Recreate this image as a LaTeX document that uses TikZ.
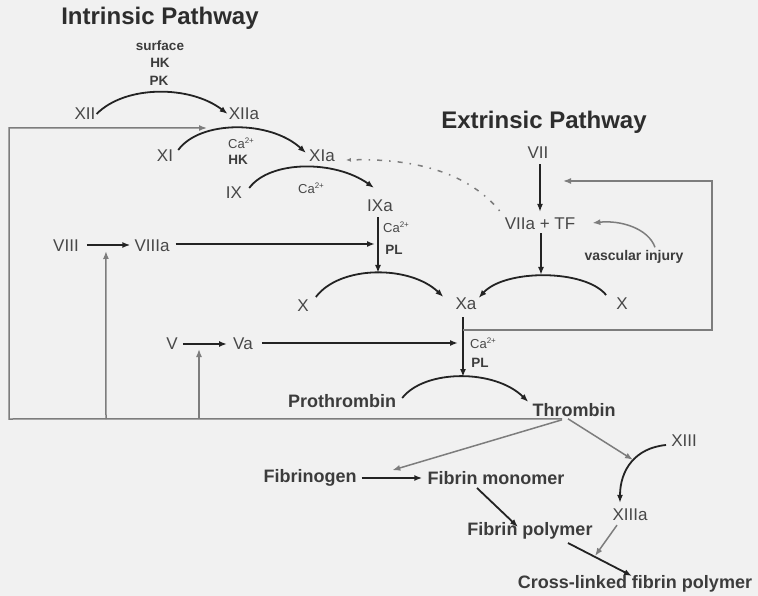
\documentclass[tikz,border=0pt]{standalone}
\usepackage{fontspec}
\setmainfont{Liberation Sans}
\usetikzlibrary{arrows.meta,calc}
\definecolor{bg}{RGB}{241,241,241}
\definecolor{lbl}{RGB}{72,72,72}
\definecolor{dlbl}{RGB}{60,60,60}
\definecolor{ttl}{RGB}{45,45,45}
\definecolor{blk}{RGB}{35,35,35}
\definecolor{gry}{RGB}{125,125,125}
\newcommand{\calcium}{Ca\raisebox{0.7ex}{\fontsize{8}{8}\selectfont 2+}}
\begin{document}
\begin{tikzpicture}[x=1pt,y=-1pt,
 num/.style={text=lbl,font=\fontsize{17}{17}\selectfont,inner sep=1pt},
 big/.style={text=dlbl,font=\fontsize{18}{18}\selectfont\bfseries,inner sep=1pt},
 sm/.style={text=dlbl,font=\fontsize{13.5}{13.5}\selectfont\bfseries,inner sep=0pt},
 ca/.style={text=lbl,font=\fontsize{13}{13}\selectfont,inner sep=0pt},
 ttlstyle/.style={text=ttl,font=\fontsize{24}{24}\selectfont\bfseries,inner sep=0pt},
 blkarr/.style={draw=blk,line width=1.8pt,-{Latex[length=8pt,width=6pt]}},
 gryarr/.style={draw=gry,line width=1.5pt,-{Latex[length=8pt,width=6pt]}},
]
\fill[bg] (0,0) rectangle (758,596);
\useasboundingbox (0,0) rectangle (758,596);

% titles
\node[ttlstyle] (tIn) at (160,18) {Intrinsic Pathway};
\node[ttlstyle] (tEx) at (544,122) {Extrinsic Pathway};

% labels
\node[sm] (surf) at (160,46) {surface};
\node[sm] (hk1) at (160,63) {HK};
\node[sm] (pk) at (159,81) {PK};
\node[num] (XII) at (85,114) {XII};
\node[num] (XIIa) at (244,114) {XIIa};
\node[num] (XI) at (165,156) {XI};
\node[num] (XIa) at (322,156) {XIa};
\node[ca] (ca1) at (241,143) {\calcium};
\node[sm] (hk2) at (238,160) {HK};
\node[num] (IX) at (234,193) {IX};
\node[num] (IXa) at (380,206) {IXa};
\node[ca] (ca2) at (311,188) {\calcium};
\node[ca] (ca3) at (396,227) {\calcium};
\node[sm] (pl1) at (394,250) {PL};
\node[num] (VIII) at (66,246) {VIII};
\node[num] (VIIIa) at (152,246) {VIIIa};
\node[num] (Xl) at (303,306) {X};
\node[num] (Xa) at (466,304) {Xa};
\node[num] (Xr) at (622,304) {X};
\node[num] (VII) at (538,153) {VII};
\node[num] (VIIa) at (540,224) {VIIa + TF};
\node[sm,font=\fontsize{14}{14}\selectfont\bfseries] (vi) at (634,257) {vascular injury};
\node[num] (V) at (172,344) {V};
\node[num] (Va) at (243,344) {Va};
\node[ca] (ca4) at (483,343) {\calcium};
\node[sm] (pl2) at (480,363) {PL};
\node[big] (Pro) at (342,401) {Prothrombin};
\node[big] (Thr) at (574,410) {Thrombin};
\node[big] (Fgn) at (310,478) {Fibrinogen};
\node[big] (Fmo) at (496,478) {Fibrin monomer};
\node[big] (Fpo) at (530,531) {Fibrin polymer};
\node[num] (XIII) at (684,441) {XIII};
\node[num] (XIIIa) at (630,515) {XIIIa};
\node[big] (Cross) at (635,584) {Cross-linked fibrin polymer};

% helper coordinates
\coordinate (pkX) at (378,273);
\coordinate (pkXr) at (541,275);
\coordinate (pkP) at (463,377);
\coordinate (fbR) at (463,330);
\coordinate (fbL) at ($(Thr.south)+(-12,1)$);
\coordinate (upA) at (106,419);
\coordinate (upB) at (199,419);

% reaction arcs
\draw[blkarr] (XII.east) .. controls (125,85) and (190,85) .. (XIIa.west);
\draw[blkarr] ($(XI.east)+(4,-6)$) .. controls (200,120) and (270,120) .. ($(XIa.west)+(-2,-3)$);
\draw[blkarr] ($(IX.east)+(6,-5)$) .. controls (270,160) and (335,160) .. ($(IXa.north west)+(8,-11)$);
\draw[blkarr] ($(Xl.east)+(6,-9)$) .. controls (340,265) and (410,265) .. ($(Xa.west)+(-11,-7)$);
\draw[blkarr] ($(Xr.west)+(-9,-9)$) .. controls (585,269) and (505,269) .. ($(Xa.east)+(1,-6)$);
\draw[blkarr] ($(Pro.east)+(5,-3)$) .. controls (425,369) and (495,369) .. ($(Thr.west)+(-3,-8)$);
\draw[blkarr] ($(XIII.west)+(-4,4)$) .. controls (635,448) and (620,470) .. ($(XIIIa.north)+(-10,-5)$);

% straight black arrows
\draw[blkarr] ($(VIII.east)+(7,-1)$) -- ($(VIIIa.west)+(-3,-1)$);
\draw[blkarr] ($(VIIIa.east)+(5,-2)$) -- ($(VIIIa.east -| pkX)+(-3,-2)$);
\draw[blkarr,shorten <=4pt] (IXa.south -| pkX) -- (pkX);
\draw[blkarr,shorten <=4pt,shorten >=5pt] (VII.south -| VIIa.north) -- (VIIa.north);
\draw[blkarr,shorten <=2pt] (VIIa.south -| pkXr) -- (pkXr);
\draw[blkarr,shorten <=6pt] (pkP |- Xa.south) -- (pkP);
\draw[blkarr] ($(V.east)+(4,0)$) -- ($(V.east -| Va.west)+(-5,0)$);
\draw[blkarr] ($(Va.east)+(8,-1)$) -- ($(Va.east -| pkP)+(-5,-1)$);
\draw[blkarr] ($(Fgn.east)+(4,0)$) -- ($(Fmo.west)+(-4,0)$);
\draw[blkarr] ($(Fmo)+(-19,10)$) -- ($(Fpo)+(-12,-4)$);
\draw[blkarr] ($(Fpo)+(38,12)$) -- ($(Cross)+(-3,-8)$);

% gray feedback
\draw[gryarr] (fbL) -- (9,419) -- (9,128) -- (207,128);
\draw[gryarr] (upA) -- ($(VIII.east)+(26,5)$);
\draw[gryarr] (upB) -- (199,349);
\draw[gryarr] (fbR) -- (712,330) -- (712,181) -- (563,181);
\draw[gryarr] ($(Thr.south)+(-12,2)$) -- ($(Fmo.north west)+(-34,0)$);
\draw[gryarr] ($(Thr.south)+(-6,1)$) -- ($(XIIIa.north)+(3,-48)$);
\draw[gryarr] ($(XIIIa.south)+(-13,3)$) -- ($(Cross)+(-40,-28)$);
\draw[gryarr] ($(vi.north)+(21,-3)$) .. controls (648,228) and (620,220) .. ($(VIIa.east)+(16,-1)$);
\draw[draw=gry,line width=1.5pt,dash pattern=on 1.5pt off 7pt on 5pt off 7pt,-{Latex[length=5pt,width=4pt]}]
  ($(VIIa.north west)+(-4,-6)$) .. controls (470,175) and (420,158) .. ($(XIa.east)+(10,4)$);
\end{tikzpicture}
\end{document}
